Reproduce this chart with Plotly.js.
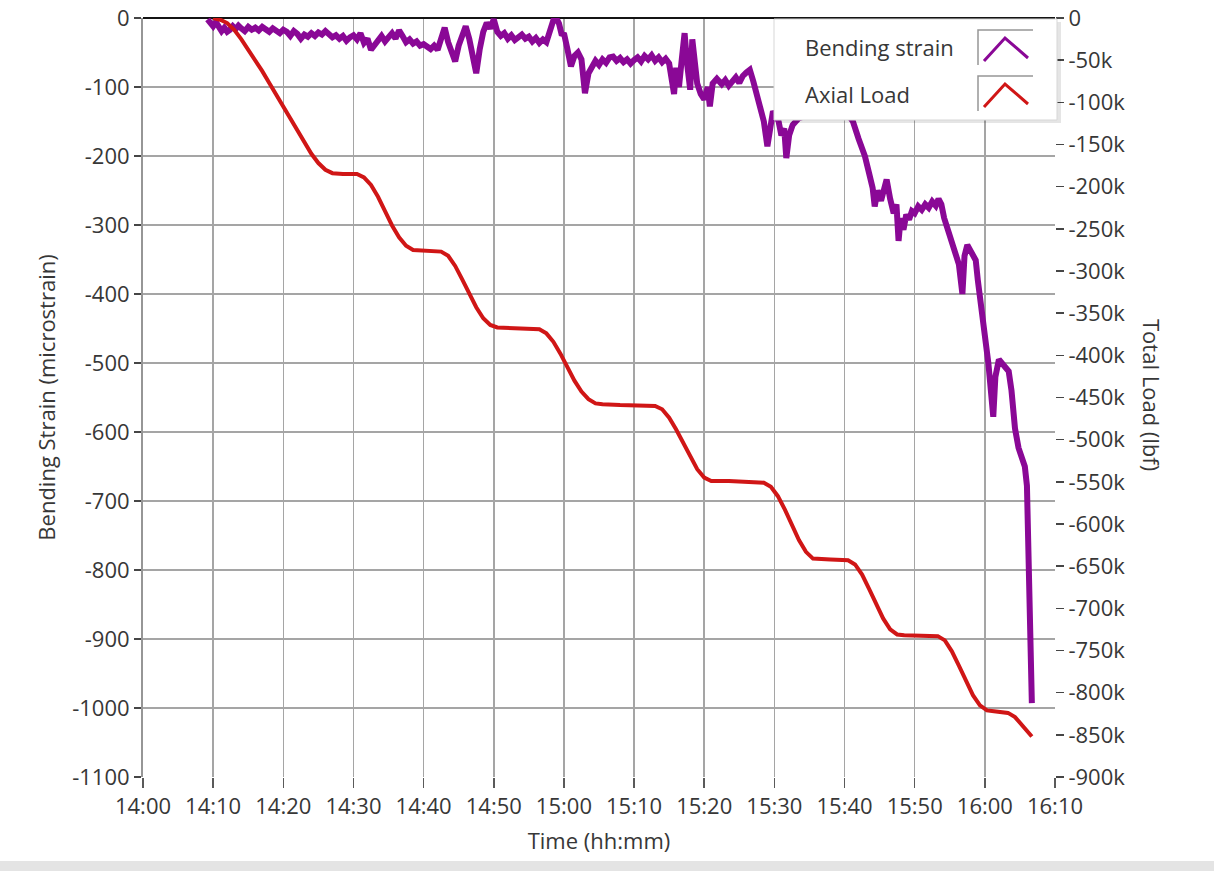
<!DOCTYPE html>
<html>
<head>
<meta charset="utf-8">
<script src="https://cdn.plot.ly/plotly-3.0.1.min.js"></script>
<style>
  html, body { margin: 0; padding: 0; background: #ffffff; }
  #chart { width: 1214px; height: 871px; }
</style>
</head>
<body>
<div id="chart"></div>
<script>
// ---------------- DATA (time = minutes after 14:00) ----------------
const strainTime = [
  9.2, 9.6, 10.0, 10.4, 10.8, 11.2, 11.6, 12.0, 12.4, 12.8, 13.2, 13.6, 14.0, 14.5, 15.0, 15.5, 16.0, 16.5,
  17.0, 17.5, 18.0, 18.5, 19.0, 19.5, 20.0, 20.5, 21.0, 21.5, 22.0, 22.5, 23.0, 23.5, 24.0, 24.5, 25.0, 25.5,
  26.0, 26.5, 27.0, 27.5, 28.0, 28.5, 29.0, 29.5, 30.0, 30.5, 31.0, 31.5, 32.0, 32.5, 33.0, 33.5, 34.0, 34.5,
  35.0, 35.5, 36.0, 36.5, 37.0, 37.5, 38.0, 38.5, 39.0, 39.5, 40.0, 40.5, 41.0, 41.5, 42.0, 42.5, 43.0, 43.5,
  44.0, 44.5, 45.0, 45.5, 46.0, 46.5, 47.0, 47.5, 48.0, 48.5, 49.0, 49.5, 50.0, 50.5, 51.0, 51.5, 52.0, 52.5,
  53.0, 53.5, 54.0, 54.5, 55.0, 55.5, 56.0, 56.5, 57.0, 57.5, 58.0, 58.5, 58.9, 59.3, 59.7, 60.0, 60.5, 61.0,
  61.5, 62.0, 62.5, 63.0, 63.5, 64.0, 64.5, 65.0, 65.5, 66.0, 66.5, 67.0, 67.5, 68.0, 68.5, 69.0, 69.5, 70.0,
  70.5, 71.0, 71.5, 72.0, 72.5, 73.0, 73.5, 74.0, 74.5, 75.0, 75.3, 75.7, 76.0, 76.4, 76.8, 77.2, 77.6, 78.0,
  78.3, 78.7, 79.0, 79.5, 80.0, 80.5, 80.8, 81.2, 81.8, 82.5, 83.0, 83.5, 84.0, 84.5, 85.0, 85.5, 86.0, 86.5,
  87.0, 87.5, 88.0, 88.5, 89.0, 89.4, 89.8, 90.2, 90.6, 91.0, 91.4, 91.7, 92.1, 92.6, 93.5, 95.0, 97.0, 99.0,
  100.5, 101.2, 102.0, 102.9, 103.5, 104.0, 104.3, 104.7, 105.2, 105.6, 106.0, 106.5, 107.0, 107.4, 107.7, 108.0,
  108.4, 108.8, 109.2, 109.6, 110.0, 110.5, 111.0, 111.5, 112.0, 112.5, 113.0, 113.4, 113.8, 114.2, 114.7, 115.2,
  115.7, 116.3, 116.8, 117.1, 117.5, 118.0, 118.7, 119.0, 119.5, 120.0, 120.5, 121.2, 121.5, 122.0, 122.5, 123.0,
  123.4, 123.8, 124.3, 124.8, 125.3, 125.7, 126.0, 126.2, 126.5, 126.7
];
const bendingStrain = [
  -2, -8, -12, -6, -15, -19, -14, -20, -17, -12, -16, -11, -15, -19, -13, -17, -14, -18,
  -13, -16, -20, -15, -18, -22, -17, -20, -26, -19, -23, -30, -24, -27, -22, -26, -21, -24,
  -19, -23, -28, -25, -30, -26, -33, -28, -25, -31, -22, -36, -30, -46, -38, -33, -26, -34,
  -28, -22, -30, -18, -26, -35, -31, -37, -34, -40, -38, -42, -45, -40, -46, -30, -14, -35,
  -48, -63, -40, -24, -12, -30, -55, -80, -45, -20, -7, -15, -2, -20, -26, -22, -30, -25,
  -32, -28, -24, -30, -27, -34, -29, -36, -31, -35, -20, -3, 0, -8, -25, -22, -45, -70,
  -55, -50, -60, -109, -80, -70, -62, -68, -60, -65, -57, -56, -62, -58, -64, -60, -66, -61,
  -57, -63, -55, -60, -54, -62, -57, -64, -59, -66, -85, -110, -72, -100, -60, -22, -70, -104,
  -31, -75, -95, -110, -118, -100, -128, -95, -88, -96, -90, -98, -92, -86, -94, -84, -79, -75,
  -92, -110, -135, -150, -186, -160, -135, -142, -150, -170, -160, -203, -170, -155, -145, -140, -135, -130,
  -140, -150, -175, -200, -225, -246, -273, -250, -265, -244, -234, -262, -283, -270, -323, -290,
  -307, -285, -292, -280, -283, -273, -278, -270, -275, -266, -272, -262, -270, -290, -307, -320,
  -340, -357, -400, -345, -329, -340, -351, -380, -420, -465, -500, -578, -520, -495, -500, -505,
  -512, -540, -595, -623, -640, -650, -678, -772, -992, -993
];

const loadTime = [
  10.0, 11.0, 12.0, 13.0, 14.0, 15.0, 16.0, 17.0, 18.0, 19.0, 20.0, 21.0, 22.0, 23.0, 24.0, 25.0, 26.0, 27.0,
  28.5, 30.5, 31.5, 32.5, 33.5, 34.5, 35.5, 36.5, 37.5, 38.5, 40.5, 42.5, 43.5, 44.5, 45.5, 46.5, 47.5, 48.5,
  49.5, 50.5, 53.5, 56.5, 57.5, 58.5, 59.5, 60.5, 61.5, 62.5, 63.5, 64.5, 65.5, 68.0, 70.5, 73.0, 74.0, 75.0,
  76.0, 77.0, 78.0, 79.0, 80.0, 81.0, 83.5, 86.0, 88.5, 89.5, 90.5, 91.5, 92.5, 93.5, 94.5, 95.5, 98.0, 100.5,
  101.5, 102.5, 103.5, 104.5, 105.5, 106.5, 107.5, 108.5, 111.0, 113.3, 114.3, 115.3, 116.3, 117.3, 118.3, 119.3,
  120.3, 121.3, 122.3, 123.3, 124.3, 125.3, 126.0, 126.7
];
const axialLoad = [
  0, -2000, -6000, -14000, -25000, -37000, -50000, -63000, -77000, -91000, -105000, -120000, -134000, -148000, -161000, -172000, -180000, -184000,
  -185000, -185000, -189000, -198000, -212000, -229000, -246000, -260000, -270000, -275000, -276000, -277000, -282000, -294000, -310000, -327000, -343000, -356000,
  -364000, -367000, -368000, -369000, -374000, -384000, -398000, -414000, -430000, -443000, -452000, -457000, -458000, -459000, -459000, -460000, -464000, -474000,
  -488000, -504000, -520000, -535000, -545000, -549000, -549000, -550000, -551000, -556000, -567000, -583000, -601000, -619000, -633000, -641000, -642000, -643000,
  -648000, -660000, -677000, -695000, -712000, -725000, -731000, -732000, -732000, -733000, -738000, -751000, -768000, -786000, -803000, -815000,
  -821000, -822000, -823000, -824000, -829000, -838000, -845000, -852000
];

const seriesNames = ['Bending strain', 'Axial Load'];
const xTickMinutes = [0, 10, 20, 30, 40, 50, 60, 70, 80, 90, 100, 110, 120, 130];
const xTickLabels = ['14:00', '14:10', '14:20', '14:30', '14:40', '14:50', '15:00', '15:10', '15:20', '15:30', '15:40', '15:50', '16:00', '16:10'];
const strainTickValues = [0, -100, -200, -300, -400, -500, -600, -700, -800, -900, -1000, -1100];
const strainTickLabels = ['0', '-100', '-200', '-300', '-400', '-500', '-600', '-700', '-800', '-900', '-1000', '-1100'];
const loadTickValues = [0, -50000, -100000, -150000, -200000, -250000, -300000, -350000, -400000, -450000, -500000, -550000, -600000, -650000, -700000, -750000, -800000, -850000, -900000];
const loadTickLabels = ['0', '-50k', '-100k', '-150k', '-200k', '-250k', '-300k', '-350k', '-400k', '-450k', '-500k', '-550k', '-600k', '-650k', '-700k', '-750k', '-800k', '-850k', '-900k'];

// ---------------- STYLE ----------------
const PURPLE = 'rgb(138, 8, 150)';
const RED = 'rgb(208, 22, 22)';
const GRID = 'rgb(165, 165, 165)';
const TEXT = 'rgb(55, 55, 55)';
const FONT = 'Open Sans, Noto Sans, sans-serif';
const FS = 22;

const traces = [
  {
    x: loadTime, y: axialLoad, name: seriesNames[1], yaxis: 'y2',
    type: 'scatter', mode: 'lines',
    line: { color: RED, width: 4 }
  },
  {
    x: strainTime, y: bendingStrain, name: seriesNames[0], yaxis: 'y',
    type: 'scatter', mode: 'lines',
    line: { color: PURPLE, width: 6 }
  }
];

// legend drawn in paper coordinates (icon to the right of the label, like the original)
function P(px) { return (px - 143) / 912; }
function Q(py) { return (777 - py) / 759; }

const shapes = [
  // window bottom strip
  { type: 'rect', xref: 'paper', yref: 'paper', x0: P(0), x1: P(1214), y0: Q(861), y1: Q(871),
    fillcolor: 'rgb(228,228,228)', line: { width: 0 }, layer: 'above' },
  // legend shadow
  { type: 'rect', xref: 'paper', yref: 'paper', x0: P(778), x1: P(1061), y0: Q(123), y1: Q(22),
    fillcolor: 'rgba(0,0,0,0.10)', line: { width: 0 }, layer: 'above' },
  // legend box
  { type: 'rect', xref: 'paper', yref: 'paper', x0: P(774), x1: P(1057), y0: Q(120), y1: Q(19),
    fillcolor: 'rgb(255,255,255)', line: { color: 'rgb(215,215,215)', width: 1 }, layer: 'above' }
];
const legendRows = [
  { label: seriesNames[0], color: PURPLE, top: 30, bottom: 65 },
  { label: seriesNames[1], color: RED, top: 76, bottom: 111 }
];
const annotations = [];
legendRows.forEach(function (r) {
  shapes.push({ type: 'path', xref: 'paper', yref: 'paper', layer: 'above',
    path: 'M' + P(978) + ',' + Q(r.bottom) + ' L' + P(978) + ',' + Q(r.top) + ' L' + P(1033) + ',' + Q(r.top),
    line: { color: 'rgb(150,150,150)', width: 1.5 } });
  shapes.push({ type: 'path', xref: 'paper', yref: 'paper', layer: 'above',
    path: 'M' + P(984) + ',' + Q(r.bottom - 4) + ' L' + P(1005) + ',' + Q(r.top + 8) + ' L' + P(1028) + ',' + Q(r.bottom - 7),
    line: { color: r.color, width: 3 } });
  annotations.push({ xref: 'paper', yref: 'paper', x: P(803), y: Q((r.top + r.bottom) / 2),
    xanchor: 'left', yanchor: 'middle', showarrow: false, text: r.label,
    font: { family: FONT, size: FS, color: TEXT } });
});
annotations.push({ xref: 'paper', yref: 'paper', x: P(1152), y: Q(395), textangle: 90,
  xanchor: 'center', yanchor: 'middle', showarrow: false, text: 'Total Load (lbf)',
  font: { family: FONT, size: FS, color: TEXT } });

const layout = {
  width: 1214, height: 871,
  margin: { l: 143, r: 159, t: 18, b: 94 },
  paper_bgcolor: '#ffffff', plot_bgcolor: '#ffffff',
  showlegend: false,
  font: { family: FONT, size: FS, color: TEXT },
  xaxis: {
    range: [0, 130], tickmode: 'array', tickvals: xTickMinutes, ticktext: xTickLabels,
    showgrid: true, gridcolor: GRID, gridwidth: 1.5,
    ticks: 'outside', ticklen: 10, tickwidth: 1.5, tickcolor: 'rgb(90,90,90)',
    showline: false, zeroline: false,
    tickfont: { family: FONT, size: FS, color: TEXT },
    title: { text: 'Time (hh:mm)', font: { family: FONT, size: FS, color: TEXT }, standoff: 14 }
  },
  yaxis: {
    range: [-1100, 0], tickmode: 'array', tickvals: strainTickValues, ticktext: strainTickLabels,
    showgrid: true, gridcolor: GRID, gridwidth: 1.5,
    ticks: 'outside', ticklen: 7, tickwidth: 1.5, tickcolor: 'rgb(70,70,70)',
    showline: true, linecolor: 'rgb(150,150,150)', linewidth: 2,
    zeroline: true, zerolinecolor: 'rgb(20,20,20)', zerolinewidth: 2.5,
    tickfont: { family: FONT, size: FS, color: TEXT },
    title: { text: 'Bending Strain (microstrain)', font: { family: FONT, size: FS, color: TEXT }, standoff: 10 }
  },
  yaxis2: {
    overlaying: 'y', side: 'right',
    range: [-900000, 0], tickmode: 'array', tickvals: loadTickValues, ticktext: loadTickLabels,
    showgrid: false, zeroline: false, showline: false,
    ticks: 'outside', ticklen: 8, tickwidth: 1.5, tickcolor: 'rgb(70,70,70)',
    tickfont: { family: FONT, size: FS, color: TEXT }
  },
  shapes: shapes,
  annotations: annotations
};

Plotly.newPlot('chart', traces, layout, { staticPlot: true, displayModeBar: false });
</script>
</body>
</html>
